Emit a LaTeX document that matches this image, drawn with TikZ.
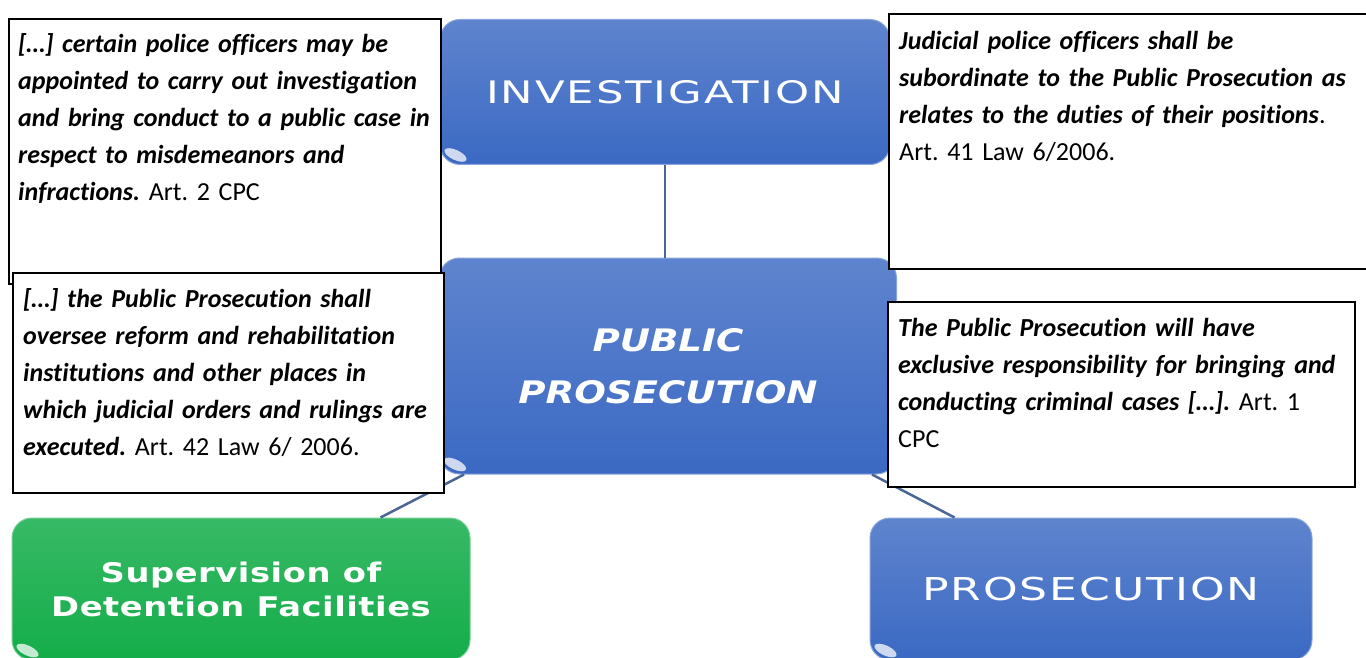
\documentclass[tikz,border=0pt]{standalone}
\usepackage{fontspec}
\setmainfont{Carlito}[Ligatures=NoCommon]
\newfontfamily\boxfont[FakeStretch=1.4,LetterSpace=6]{DejaVu Sans}
\newfontfamily\ppfont[FakeStretch=1.2]{DejaVu Sans}
\newfontfamily\supfont[FakeStretch=1.25,LetterSpace=2]{DejaVu Sans}
\usetikzlibrary{calc,positioning}
\definecolor{boxblue}{HTML}{3B69C3}
\definecolor{boxgreen}{HTML}{14AD4A}
\definecolor{linkblue}{HTML}{4A6694}
\frenchspacing

\begin{document}
\begin{tikzpicture}[x=1pt,y=-1pt,
    bluebox/.style={rounded corners=20pt,draw=boxblue!60!white,line width=1pt,
      top color=boxblue!82!white,bottom color=boxblue,text=white,align=center,inner sep=0pt},
    greenbox/.style={bluebox,draw=boxgreen!60!white,top color=boxgreen!85!white,bottom color=boxgreen},
    glint/.style={fill=white,opacity=.75},
    callout/.style={draw=black,line width=2.4pt,fill=white,inner sep=0pt,anchor=north west},
    quote/.style={anchor=north west,align=left,inner sep=0pt,font=\fontsize{26}{37}\selectfont},
    link/.style={draw=linkblue,line width=2.5pt}]
    \useasboundingbox (0,0) rectangle (1366,658);
    % boxes of the chart
    \node[bluebox,minimum width=450,minimum height=145,font=\boxfont\fontsize{31}{36}\selectfont](inv)at(665,92){INVESTIGATION};
    \node[bluebox,minimum width=457,minimum height=216,font=\ppfont\bfseries\itshape\fontsize{31}{52}\selectfont](pp)at(668,366){PUBLIC\\PROSECUTION};
    \node[greenbox,minimum width=458,minimum height=142,font=\supfont\bfseries\fontsize{27}{34}\selectfont](sup)at(241,589){Supervision of\\Detention Facilities};
    \node[bluebox,minimum width=442,minimum height=142,font=\boxfont\fontsize{31.5}{38}\selectfont](pros)at(1091,589){PROSECUTION};
    \foreach \b in {inv,pp,sup,pros}
      \fill[glint]($(\b.south west)+(16,-10)$)ellipse[x radius=12pt,y radius=5pt,rotate=-25];
    \draw[link](inv.south)--(inv.south|-pp.north);
    \draw[link]([xshift=25]pp.south west)--([xshift=-90]sup.north east);
    \draw[link]([xshift=-25]pp.south east)--([xshift=85]pros.north west);
    % legal notes
    \node[callout,minimum width=432,minimum height=265](c1)at(8,18){};
    \node[quote,text width=428](q1)at($(c1.north west)+(10,15.5)$){\textbf{\textit{[…] certain police officers may be\\appointed to carry out investigation\\and bring conduct to a public case in\\respect to misdemeanors and\\infractions.}} Art. 2 CPC};
    \node[callout,minimum width=480,minimum height=255](c2)at(888,13){};
    \node[quote,text width=470](q2)at($(c2.north west)+(11,18)$){\textbf{\textit{Judicial police officers shall be\\subordinate to the Public Prosecution as\\relates to the duties of their positions}}.\\Art. 41 Law 6/2006.};
    \node[callout,minimum width=431,minimum height=220](c3)at(12,272){};
    \node[quote,text width=428](q3)at($(c3.north west)+(11,16)$){\textbf{\textit{[…] the Public Prosecution shall\\oversee reform and rehabilitation\\institutions and other places in\\which judicial orders and rulings are\\executed.}} Art. 42 Law 6/ 2006.};
    \node[callout,minimum width=467,minimum height=185](c4)at(887,301){};
    \node[quote,text width=462](q4)at($(c4.north west)+(11,17)$){\textbf{\textit{The Public Prosecution will have\\exclusive responsibility for bringing and\\conducting criminal cases […].}} Art. 1\\CPC};
\end{tikzpicture}
\end{document}
